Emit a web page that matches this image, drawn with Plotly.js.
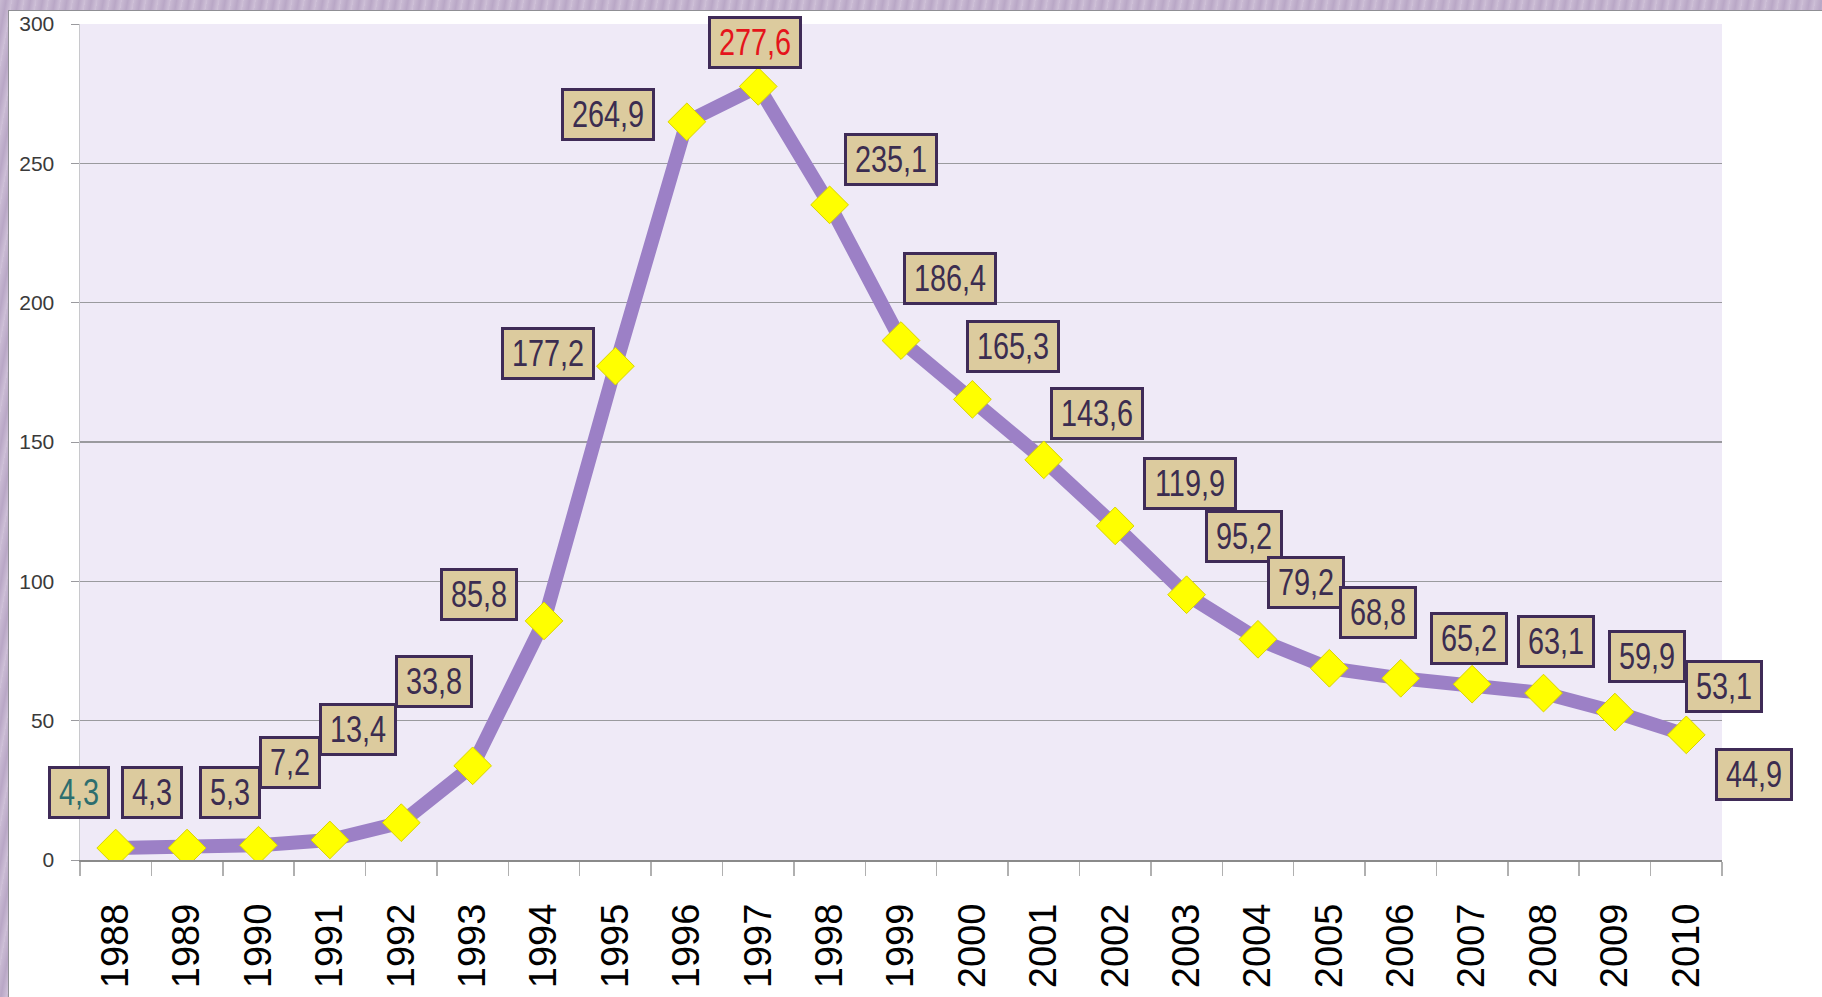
<!DOCTYPE html>
<html>
<head>
<meta charset="utf-8">
<script src="https://cdn.plot.ly/plotly-3.0.1.min.js"></script>
<style>
  html, body { margin: 0; padding: 0; width: 1822px; height: 997px; overflow: hidden;
    background: repeating-linear-gradient(100deg, #c9bad3 0px, #b9a7c6 6px, #cfc1d8 12px); }
  #chart { position: absolute; left: 8px; top: 10px; width: 1814px; height: 987px;
    border-top: 1px solid #8f8f94; border-left: 1px solid #8f8f94; box-sizing: border-box; background: #fff; }
</style>
</head>
<body>
<div id="chart"></div>
<script>
// ---- data ----
const years = ['1988','1989','1990','1991','1992','1993','1994','1995','1996','1997','1998','1999',
               '2000','2001','2002','2003','2004','2005','2006','2007','2008','2009','2010'];
const values = [4.3, 4.3, 5.3, 7.2, 13.4, 33.8, 85.8, 177.2, 264.9, 277.6, 235.1, 186.4,
                165.3, 143.6, 119.9, 95.2, 79.2, 68.8, 65.2, 63.1, 59.9, 53.1, 44.9];
const yTicks = [0, 50, 100, 150, 200, 250, 300];

// ---- label placement (pixel offsets from each point, screen coords) ----
const labelDx = [-37, -35, -28, -40, -43, -39, -65, -67, -79, -3, 61, 49, 41, 53, 75, 57, 48, 49, 68, 84, 103, 109, 68];
const labelDy = [-56, -56, -53, -77, -93, -84, -26, -13, -7, -44, -45, -62, -53, -46, -42, -58, -57, -56, -40, -43, -37, -26, 40];

const maxIdx = values.indexOf(Math.max(...values));
const labelFont = 'Liberation Sans, Arial, sans-serif';
const narrow = 0.78; // horizontal compression of label text (condensed look)

const annotations = values.map((v, i) => {
  const txt = v.toFixed(1).replace('.', ',');
  return {
    x: i, y: v, xref: 'x', yref: 'y',
    text: txt,
    showarrow: false,
    xanchor: 'center', yanchor: 'middle',
    xshift: labelDx[i], yshift: -labelDy[i],
    width: 16 * txt.length + 4, height: 43,
    font: { family: labelFont, size: 37,
            color: i === 0 ? '#2d6e6e' : (i === maxIdx ? '#e5141b' : '#3b2d50') },
    bgcolor: '#dccb9e', bordercolor: '#3f2b57', borderwidth: 3, borderpad: 2
  };
});

const trace = {
  x: years, y: values, type: 'scatter', mode: 'lines+markers',
  line: { color: '#9c80c6', width: 14 },
  marker: { symbol: 'diamond', size: 29, color: '#ffff00', line: { color: '#d9d400', width: 1 } },
  hoverinfo: 'x+y'
};

const layout = {
  width: 1814, height: 987,
  margin: { l: 71, r: 101, t: 13, b: 138 },
  paper_bgcolor: '#ffffff',
  plot_bgcolor: '#efeaf7',
  showlegend: false,
  font: { family: 'Liberation Sans, Arial, sans-serif' },
  xaxis: {
    type: 'category', categoryorder: 'array', categoryarray: years,
    tickson: 'boundaries', ticks: 'outside', ticklen: 14, tickcolor: '#b0b0b0', tickwidth: 1.5,
    showline: true, linecolor: '#8a8a8a', linewidth: 1.5,
    showgrid: false, zeroline: false,
    tickangle: -90, ticklabelstandoff: 27,
    tickfont: { size: 38, color: '#000000', family: 'Liberation Sans, Arial, sans-serif' },
    range: [-0.5, years.length - 0.5], fixedrange: true
  },
  yaxis: {
    range: [0, 300], tickvals: yTicks, ticktext: yTicks.map(String),
    showgrid: true, gridcolor: '#9a9a9e', gridwidth: 1.2,
    ticks: 'outside', ticklen: 8, tickcolor: '#9a9a9e',
    showline: true, linecolor: '#c8c8cc', linewidth: 1.5,
    zeroline: false, ticklabelstandoff: 12,
    tickfont: { size: 21, color: '#3a3a3a', family: 'Liberation Sans, Arial, sans-serif' },
    fixedrange: true
  },
  annotations: annotations
};

Plotly.newPlot('chart', [trace], layout, { displayModeBar: false, staticPlot: true }).then(gd => {
  // condense the label glyphs horizontally (no narrow font is installed)
  gd.querySelectorAll('.annotation-text').forEach(t => {
    const len = t.getComputedTextLength();
    t.setAttribute('textLength', (len * narrow).toFixed(1));
    t.setAttribute('lengthAdjust', 'spacingAndGlyphs');
  });
});
</script>
</body>
</html>
